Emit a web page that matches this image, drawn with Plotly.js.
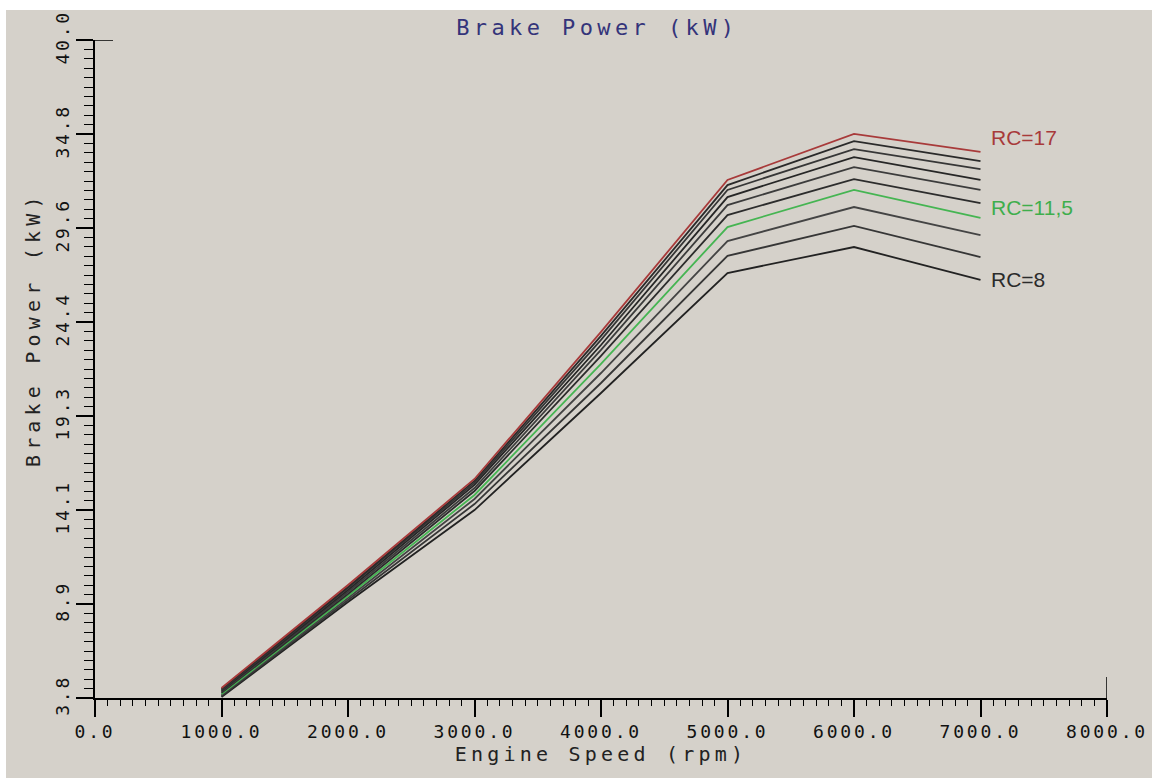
<!DOCTYPE html>
<html>
<head>
<meta charset="utf-8">
<script src="https://cdn.plot.ly/plotly-3.0.1.min.js"></script>
<style>
  html, body { margin: 0; padding: 0; background: #ffffff; }
  #chart { position: absolute; left: 6px; top: 10px; width: 1146px; height: 768px; }
  /* wide, evenly spaced lettering of the instrument-style labels */
  #chart .xtick text, #chart .ytick text { letter-spacing: 2.8px; }
  #chart .gtitle { letter-spacing: 4.4px; }
  #chart .xtitle { letter-spacing: 4.2px; }
  #chart g.annotation[data-index="3"] text { letter-spacing: 5.2px; }
</style>
</head>
<body>
<div id="chart"></div>
<script>
// Engine speed sample points (rpm)
const engineSpeed = [1000, 2000, 3000, 4000, 5000, 6000, 7000];

// Compression ratios of each curve
const compressionRatios = [8, 9, 10, 11.5, 12, 13, 14, 15, 16, 17];

// Brake power (kW) for each compression ratio
const powerRC8    = [3.86, 9.08, 14.14, 20.58, 27.18, 28.61, 26.80];
const powerRC9    = [3.91, 9.19, 14.47, 21.13, 28.12, 29.77, 28.06];
const powerRC10   = [3.97, 9.30, 14.75, 21.68, 28.94, 30.81, 29.27];
const powerRC11_5 = [4.02, 9.41, 14.97, 22.18, 29.71, 31.75, 30.21];
const powerRC12   = [4.08, 9.52, 15.19, 22.62, 30.37, 32.35, 31.03];
const powerRC13   = [4.13, 9.63, 15.35, 22.95, 30.92, 33.01, 31.75];
const powerRC14   = [4.19, 9.74, 15.52, 23.22, 31.36, 33.56, 32.30];
const powerRC15   = [4.24, 9.85, 15.63, 23.50, 31.75, 34.00, 32.90];
const powerRC16   = [4.30, 9.91, 15.74, 23.72, 32.02, 34.44, 33.34];
const powerRC17   = [4.35, 10.02, 15.85, 23.94, 32.30, 34.83, 33.85];

const powerSeries = [powerRC8, powerRC9, powerRC10, powerRC11_5, powerRC12,
                     powerRC13, powerRC14, powerRC15, powerRC16, powerRC17];

// Axis tick labels
const xTickVals  = [0, 1000, 2000, 3000, 4000, 5000, 6000, 7000, 8000];
const xTickText  = ["0.0", "1000.0", "2000.0", "3000.0", "4000.0", "5000.0", "6000.0", "7000.0", "8000.0"];
const yTickText  = ["3.8", "8.9", "14.1", "19.3", "24.4", "29.6", "34.8", "40.0"];

const yMin = 3.8, yMax = 40.0;
const yStep = (yMax - yMin) / (yTickText.length - 1);
const yTickVals = yTickText.map((_, i) => yMin + i * yStep);

const lineColors = ["#222222", "#363636", "#444444", "#45b552", "#2c2c2c",
                    "#3c3c3c", "#262626", "#363636", "#2a2a2a", "#a83a3a"];

const traces = powerSeries.map((vals, i) => ({
  type: "scatter",
  mode: "lines",
  x: engineSpeed,
  y: vals,
  name: "RC=" + String(compressionRatios[i]).replace(".", ","),
  line: { color: lineColors[i], width: 1.8 },
  hoverinfo: "x+y+name"
}));

const monoFont = "DejaVu Sans Mono, Liberation Mono, monospace";
const labelFont = "Liberation Sans, Arial, sans-serif";
const gray = "#d5d1ca";

const layout = {
  width: 1146,
  height: 768,
  paper_bgcolor: gray,
  plot_bgcolor: gray,
  showlegend: false,
  margin: { l: 89, r: 45, t: 30, b: 80 },
  title: {
    text: "Brake Power (kW)",
    font: { family: monoFont, size: 22, color: "#34347a" },
    xref: "container", x: 0.516, xanchor: "center",
    yref: "container", y: 0.977, yanchor: "middle"
  },
  xaxis: {
    range: [0, 8000],
    showgrid: false, zeroline: false,
    showline: true, linecolor: "#000", linewidth: 1.5,
    tickmode: "array", tickvals: xTickVals, ticktext: xTickText,
    ticks: "outside", ticklen: 17, tickwidth: 1.5, tickcolor: "#000",
    tickfont: { family: monoFont, size: 18, color: "#111" },
    minor: { tick0: 0, dtick: 100, ticks: "outside", ticklen: 6, tickwidth: 1.2, tickcolor: "#000", showgrid: false },
    title: { text: "Engine Speed (rpm)", font: { family: monoFont, size: 20, color: "#222" }, standoff: 1 },
    automargin: false
  },
  yaxis: {
    range: [yMin, yMax],
    showgrid: false, zeroline: false,
    showline: true, linecolor: "#000", linewidth: 1.5,
    tickmode: "array", tickvals: yTickVals, ticktext: yTickText,
    tickangle: -90,
    ticks: "outside", ticklen: 17, tickwidth: 1.5, tickcolor: "#000",
    tickfont: { family: monoFont, size: 18, color: "#111" },
    minor: { tick0: yMin, dtick: yStep / 10, ticks: "outside", ticklen: 9, tickwidth: 1.2, tickcolor: "#000", showgrid: false },
    automargin: false
  },
  shapes: [
    // cap across the top end of the vertical axis
    { type: "line", xref: "x", xsizemode: "pixel", xanchor: 0, x0: -18, x1: 18,
      yref: "y", y0: yMax, y1: yMax, line: { color: "#000", width: 1.5 } },
    // vertical axis carried below the horizontal one
    { type: "line", xref: "x", x0: 0, x1: 0,
      yref: "y", ysizemode: "pixel", yanchor: yMin, y0: 0, y1: -20, line: { color: "#000", width: 1.5 } },
    // horizontal axis carried left of the vertical one
    { type: "line", xref: "x", xsizemode: "pixel", xanchor: 0, x0: -18, x1: 0,
      yref: "y", y0: yMin, y1: yMin, line: { color: "#000", width: 1.5 } },
    // cap across the right end of the horizontal axis
    { type: "line", xref: "x", x0: 8000, x1: 8000,
      yref: "y", ysizemode: "pixel", yanchor: yMin, y0: -19, y1: 21, line: { color: "#000", width: 1.5 } }
  ],
  annotations: [
    { text: "RC=17", x: 7000, y: 34.61, xref: "x", yref: "y", xanchor: "left", yanchor: "middle",
      xshift: 8, showarrow: false, font: { family: labelFont, size: 21, color: "#a83a3a" } },
    { text: "RC=11,5", x: 7000, y: 30.76, xref: "x", yref: "y", xanchor: "left", yanchor: "middle",
      xshift: 8, showarrow: false, font: { family: labelFont, size: 21, color: "#3fae4c" } },
    { text: "RC=8", x: 7000, y: 26.85, xref: "x", yref: "y", xanchor: "left", yanchor: "middle",
      xshift: 8, showarrow: false, font: { family: labelFont, size: 21, color: "#2b2b2b" } },
    // vertical axis title, set a little above the middle of the axis
    { text: "Brake Power (kW)", textangle: -90, xref: "paper", x: 0, xshift: -62,
      yref: "paper", y: 0.56, xanchor: "center", yanchor: "middle",
      showarrow: false, font: { family: monoFont, size: 20, color: "#222" } }
  ]
};

Plotly.newPlot("chart", traces, layout, { displayModeBar: false });
</script>
</body>
</html>
